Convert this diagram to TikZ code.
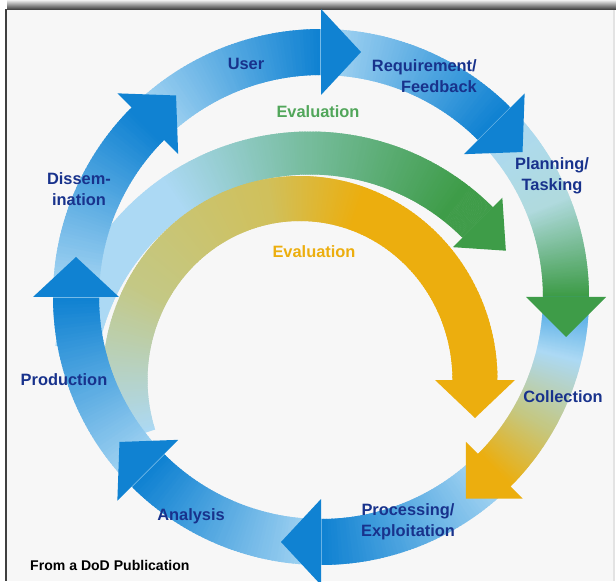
\documentclass[tikz,border=0pt]{standalone}
\usepackage{fontspec}
\setmainfont{Liberation Sans}
\usepackage{xcolor}
\usepackage{tikz}
\usetikzlibrary{calc}
\definecolor{ringdark}{RGB}{16,130,210}
\definecolor{ringlight}{RGB}{172,217,244}
\definecolor{ringmid}{RGB}{60,160,226}
\definecolor{ringpale}{RGB}{176,218,222}
\definecolor{evalgreen}{RGB}{62,156,72}
\definecolor{evalyellow}{RGB}{236,174,14}
\definecolor{tealmid}{RGB}{118,188,156}
\definecolor{khaki}{RGB}{196,200,132}
\definecolor{olive}{RGB}{208,192,92}
\definecolor{labelblue}{RGB}{24,50,140}
\definecolor{panel}{RGB}{247,247,247}

% band along an arc, colour blended from #6 to #7
\newcommand{\gradarc}[7]{%
  \foreach \k in {0,...,59}{%
    \pgfmathsetmacro{\angA}{#4+(#5-(#4))*(\k-0.2)/60}%
    \pgfmathsetmacro{\angB}{#4+(#5-(#4))*(\k+1.4)/60}%
    \pgfmathtruncatemacro{\pc}{100-100*\k/59}%
    \fill[shift={(#1)}, #6!\pc!#7] (\angA:#3) -- (\angB:#3) -- (\angB:#2) -- (\angA:#2) -- cycle;
  }}
% arrow head on a band: centre, base angle, mid radius, half width, length, colour
\newcommand{\headtip}[6]{%
  \pgfmathsetmacro{\rlo}{#3-#4}\pgfmathsetmacro{\rhi}{#3+#4}%
  \fill[#6] ($(#1)+(#2:\rlo)$) -- ($(#1)+(#2:\rhi)$) -- ($(#1)+(#2:#3)+(#2-90:#5)$) -- cycle;}

\begin{document}
\begin{tikzpicture}[x=0.03cm, y=0.03cm,
  lbl/.style={font=\bfseries\fontsize{14}{17.5}\selectfont, text=labelblue, align=center, inner sep=0pt},
  evl/.style={font=\bfseries\fontsize{14}{17.5}\selectfont, inner sep=0pt}]
\useasboundingbox (0,0) rectangle (616,581);
% frame
\fill[white] (0,0) rectangle (616,581);
\shade[top color=gray!12, bottom color=black!80] (7,571) rectangle (616,581);
\fill[panel] (7,0) rectangle (613,571);
\fill[black!75] (4.5,0) rectangle (7,572);
\fill[gray!22] (613,0) rectangle (614.5,571);

\coordinate (o) at (321,284);
\coordinate (cg) at (310,191);
\coordinate (cy) at (300,201);

% inner evaluation arcs
\gradarc{cg}{215.5}{258.5}{170}{125}{ringlight}{ringlight}
\gradarc{cg}{215.5}{258.5}{125}{90}{ringlight}{tealmid}
\gradarc{cg}{215.5}{258.5}{90}{52}{tealmid}{evalgreen}
\gradarc{cg}{215.5}{258.5}{52}{45}{evalgreen}{evalgreen}
\headtip{cg}{45}{237}{35}{40}{evalgreen}
\gradarc{cy}{152.5 and 159}{197.5 and 204}{198}{150}{ringlight}{khaki}
\gradarc{cy}{152.5 and 159}{197.5 and 204}{150}{100}{khaki}{olive}
\gradarc{cy}{152.5 and 159}{197.5 and 204}{100}{70}{olive}{evalyellow}
\gradarc{cy}{152.5 and 159}{197.5 and 204}{70}{0}{evalyellow}{evalyellow}
\headtip{cy}{0}{175}{40}{38}{evalyellow}

% outer cycle
\foreach \s in {135,90,-45,-90,-135,180}
  \gradarc{o}{222}{268}{\s}{\s-45}{ringlight}{ringdark};
\gradarc{o}{222}{268}{45}{22}{ringlight}{ringpale}
\gradarc{o}{222}{268}{22}{0}{ringpale}{evalgreen}
\gradarc{o}{222}{268}{0}{-14}{ringmid}{ringlight}
\gradarc{o}{222}{268}{-14}{-30}{ringlight}{khaki}
\gradarc{o}{222}{268}{-30}{-45}{khaki}{evalyellow}
\foreach \b in {90,45,-90,-135,180,135}
  \headtip{o}{\b}{245}{43}{40}{ringdark};
\headtip{o}{0}{245}{40}{40}{evalgreen}
\headtip{o}{-45}{245}{40}{40}{evalyellow}

% labels
\node[lbl] (user) at (246,517) {User};
\node[lbl, align=right, anchor=east] (req) at (477,505) {Requirement/\\Feedback};
\node[lbl] (plan) at (552,405) {Planning/\\Tasking};
\node[lbl] (coll) at (563,184) {Collection};
\node[lbl] (proc) at (408,59) {Processing/\\Exploitation};
\node[lbl] (anal) at (191,65) {Analysis};
\node[lbl] (prod) at (64,201) {Production};
\node[lbl] (diss) at (79,392) {Dissem-\\ination};
\node[evl, text=evalgreen!90!white] (evgreen) at (318,469) {Evaluation};
\node[evl, text=evalyellow] (evyellow) at (314,329) {Evaluation};
\node[font=\bfseries\fontsize{12}{14}\selectfont, anchor=west, inner sep=0pt] (source) at (30,16) {From a DoD Publication};
\end{tikzpicture}
\end{document}
